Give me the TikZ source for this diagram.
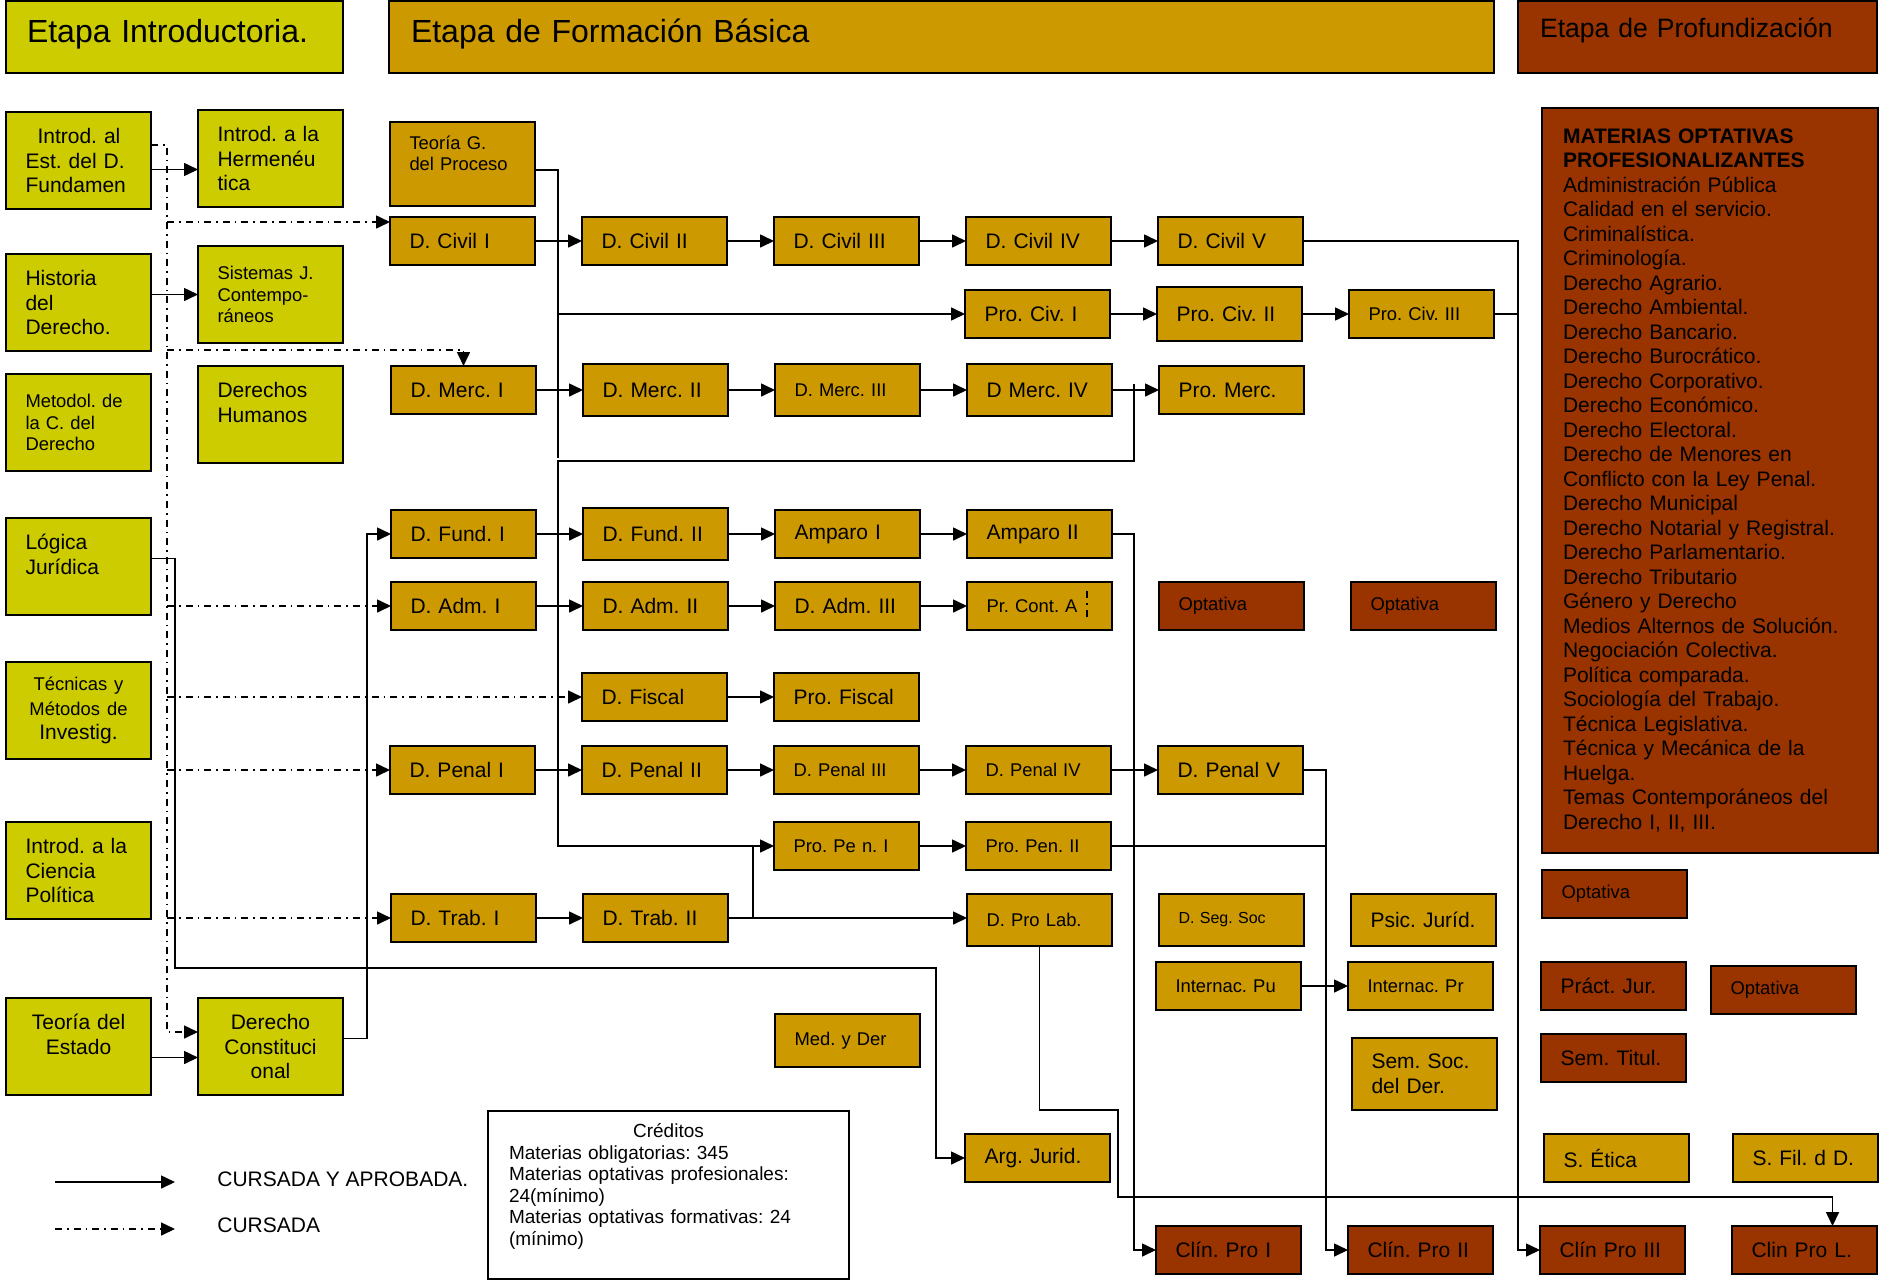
\documentclass[tikz,border=0pt]{standalone}
\usepackage{fontspec}
\setmainfont{Liberation Sans}
\usepackage{tikz}
\usetikzlibrary{positioning,arrows.meta}
\definecolor{verdeI}{RGB}{204,204,0}
\definecolor{oroB}{RGB}{204,153,0}
\definecolor{cafeP}{RGB}{153,51,0}
\newcommand{\fuenteE}{\fontsize{16}{19}\selectfont}
\newcommand{\fuenteP}{\fontsize{13.3}{16}\selectfont}
\newcommand{\fuenteG}{\fontsize{10.5}{12.25}\selectfont}
\newcommand{\fuenteC}{\fontsize{9.2}{10.75}\selectfont}
\newcommand{\fuenteM}{\fontsize{8}{9.5}\selectfont}
\newcommand{\fuenteK}{\fontsize{9.5}{10.75}\selectfont}
\frenchspacing

\begin{document}
\begin{tikzpicture}[
    x=0.5pt, y=-0.5pt,
    >={Triangle[length=7pt,width=6.5pt]},
    node distance=23.5pt,
    conector/.style={line width=0.8pt},
    cursada/.style={line width=0.8pt, dash pattern=on 3.5pt off 2.5pt on 0.8pt off 2.5pt},
    every edge/.style={<-, draw, conector},
    caja/.style={draw, line width=1pt, outer sep=0pt, font=\fuenteG, align=left, text width=53pt,
        inner xsep=9.75pt, inner ysep=2pt, minimum width=72.5pt, minimum height=24pt},
    intro/.style={caja, fill=verdeI, minimum height=48.5pt},
    basica/.style={caja, fill=oroB},
    profund/.style={caja, fill=cafeP},
    chica/.style={font=\fuenteC},
    etapa/.style={draw, line width=1pt, outer sep=0pt, anchor=north west, align=left,
        minimum height=36pt, inner xsep=10.5pt, font=\fuenteE, text depth=6pt},
    texto/.style={inner sep=0pt, anchor=west, font=\fuenteG}]

    \useasboundingbox (0,0) rectangle (1879,1280);

    \node[etapa, fill=verdeI, text width=147.5pt] (etIntro) at (6,1) {Etapa Introductoria.};
    \node[etapa, fill=oroB, text width=530.5pt, inner xsep=11pt] (etBasica) at (389,1) {Etapa de Formación Básica};
    \node[etapa, fill=cafeP, text width=157.5pt, inner xsep=11pt, font=\fuenteP, text depth=9pt] (etProf) at (1518,1) {Etapa de Profundización};

    \node[intro, anchor=north west] (intest) at (6,112) {\hspace*{6pt}Introd. al\\Est. del D.\\Fundamen};
    \node[intro, anchor=north west] (herme) at (198,110) {Introd. a la\\Hermenéu\\tica};
    \node[intro, anchor=north west] (hist) at (6,254) {Historia\\del\\Derecho.};
    \node[intro, chica, anchor=north west] (sist) at (198,246) {Sistemas J.\\Contempo-\\ráneos};
    \node[intro, chica, anchor=north west] (metod) at (6,374) {Metodol. de\\la C. del\\Derecho};
    \node[intro, anchor=north west] (ddhh) at (198,366) {Derechos\\Humanos\\\mbox{}};
    \node[intro, anchor=north west] (logica) at (6,518) {Lógica\\Jurídica\\\mbox{}};
    \node[intro, anchor=north west, align=center] (tecnicas) at (6,662) {{\fuenteC Técnicas y\\Métodos de}\\Investig.};
    \node[intro, anchor=north west] (icp) at (6,822) {Introd. a la\\Ciencia\\Política};
    \node[intro, anchor=north west, align=center] (testado) at (6,998) {Teoría del\\Estado\\\mbox{}};
    \node[intro, anchor=north west, align=center] (dconst) at (198,998) {Derecho\\Constituci\\onal};

    \node[basica, chica, anchor=north west, minimum height=42pt] (tgp) at (390,122) {Teoría G.\\del Proceso\\\mbox{}};

    \node[basica, anchor=north west] (dciv1) at (390,217) {D. Civil I};
        \node[basica, right=of dciv1] (dciv2) {D. Civil II} edge (dciv1);
        \node[basica, right=of dciv2] (dciv3) {D. Civil III} edge (dciv2);
        \node[basica, right=of dciv3] (dciv4) {D. Civil IV} edge (dciv3);
        \node[basica, right=of dciv4] (dciv5) {D. Civil V} edge (dciv4);

    \node[basica, anchor=north west] (prociv1) at (965,290) {Pro. Civ. I};
        \node[basica, right=of prociv1, minimum height=27pt] (prociv2) {Pro. Civ. II} edge (prociv1);
        \node[basica, chica, right=of prociv2] (prociv3) {Pro. Civ. III} edge (prociv2);

    \node[basica, anchor=north west] (dmerc1) at (391,366) {D. Merc. I};
        \node[basica, right=of dmerc1, minimum height=26pt] (dmerc2) {D. Merc. II} edge (dmerc1);
        \node[basica, chica, right=of dmerc2, minimum height=26pt] (dmerc3) {D. Merc. III} edge (dmerc2);
        \node[basica, right=of dmerc3, minimum height=26pt] (dmerc4) {D Merc. IV} edge (dmerc3);
        \node[basica, right=of dmerc4] (promerc) {Pro. Merc.} edge (dmerc4);

    \node[basica, anchor=north west] (dfund1) at (391,510) {D. Fund. I};
        \node[basica, right=of dfund1, minimum height=26pt] (dfund2) {D. Fund. II} edge (dfund1);
        \node[basica, right=of dfund2] (amp1) {Amparo I} edge (dfund2);
        \node[basica, right=of amp1] (amp2) {Amparo II} edge (amp1);

    \node[basica, anchor=north west] (dadm1) at (391,582) {D. Adm. I};
        \node[basica, right=of dadm1] (dadm2) {D. Adm. II} edge (dadm1);
        \node[basica, right=of dadm2] (dadm3) {D. Adm. III} edge (dadm2);
        \node[basica, chica, right=of dadm3] (prcont) {Pr. Cont. A} edge (dadm3);
        \node[profund, chica, right=of prcont] (opt1) {Optativa};
        \node[profund, chica, right=of opt1] (opt2) {Optativa};

    \node[basica, anchor=north west] (dfisc) at (582,673) {D. Fiscal};
        \node[basica, right=of dfisc] (profisc) {Pro. Fiscal} edge (dfisc);

    \node[basica, anchor=north west] (dpen1) at (390,746) {D. Penal I};
        \node[basica, right=of dpen1] (dpen2) {D. Penal II} edge (dpen1);
        \node[basica, chica, right=of dpen2] (dpen3) {D. Penal III} edge (dpen2);
        \node[basica, chica, right=of dpen3] (dpen4) {D. Penal IV} edge (dpen3);
        \node[basica, right=of dpen4] (dpen5) {D. Penal V} edge (dpen4);

    \node[basica, chica, anchor=north west] (propen1) at (774,822) {Pro. Pe n. I};
        \node[basica, chica, right=of propen1] (propen2) {Pro. Pen. II} edge (propen1);

    \node[basica, anchor=north west] (dtrab1) at (391,894) {D. Trab. I};
        \node[basica, right=of dtrab1] (dtrab2) {D. Trab. II} edge (dtrab1);
    \node[basica, chica, anchor=north west, minimum height=26pt] (dprolab) at (967,894) {D. Pro Lab.};
        \node[basica, right=of dprolab, font=\fuenteM, minimum height=26pt] (dsegsoc) {D. Seg. Soc};
        \node[basica, right=of dsegsoc, minimum height=26pt] (psic) {Psic. Juríd.};

    \node[basica, chica, anchor=north west] (internacpu) at (1156,962) {Internac. Pu};
        \node[basica, chica, right=of internacpu] (internacpr) {Internac. Pr} edge (internacpu);
    \node[basica, anchor=north west, minimum height=36pt] (semsoc) at (1352,1038) {Sem. Soc.\\del Der.};
    \node[basica, chica, anchor=north west, minimum height=26.5pt] (medyder) at (775,1014) {Med. y Der};
    \node[basica, anchor=north west] (argjur) at (965,1134) {Arg. Jurid.};

    \node[profund, anchor=north west] (clin1) at (1156,1226) {Clín. Pro I};
        \node[profund, right=of clin1] (clin2) {Clín. Pro II};
        \node[profund, right=of clin2] (clin3) {Clín Pro III};
        \node[profund, right=of clin3] (clinL) {Clin Pro L.};

    \node[profund, anchor=north west, text width=147pt, inner xsep=10.5pt, minimum width=168pt,
        minimum height=372.5pt] (optativas) at (1542,108) {\textbf{MATERIAS OPTATIVAS}\\
        \textbf{PROFESIONALIZANTES}\\Administración Pública\\Calidad en el servicio.\\
        Criminalística.\\Criminología.\\Derecho Agrario.\\Derecho Ambiental.\\Derecho Bancario.\\
        Derecho Burocrático.\\Derecho Corporativo.\\Derecho Económico.\\Derecho Electoral.\\
        Derecho de Menores en\\Conflicto con la Ley Penal.\\Derecho Municipal\\
        Derecho Notarial y Registral.\\Derecho Parlamentario.\\Derecho Tributario\\
        Género y Derecho\\Medios Alternos de Solución.\\Negociación Colectiva.\\
        Política comparada.\\Sociología del Trabajo.\\Técnica Legislativa.\\
        Técnica y Mecánica de la\\Huelga.\\Temas Contemporáneos del\\Derecho I, II, III.};
    \node[profund, chica, anchor=north west] (optP) at (1542,870) {Optativa};
    \node[profund, anchor=north west] (practjur) at (1541,962) {Práct. Jur.};
    \node[profund, chica, anchor=north west] (opt4) at (1711,966) {Optativa};
    \node[profund, anchor=north west] (semtit) at (1541,1034) {Sem. Titul.};
    \node[basica, anchor=north west] (setica) at (1544,1134) {S. Ética};
    \node[basica, anchor=north west] (sfil) at (1733,1134) {S. Fil. d D.};

    \node[draw, line width=1pt, anchor=north west, align=left, font=\fuenteK, text width=159.5pt,
        inner xsep=10.5pt, minimum height=84pt] (creditos) at (487,1110) {\makebox[\linewidth]{Créditos}\\
        Materias obligatorias: 345\\Materias optativas profesionales:\\24(mínimo)\\
        Materias optativas formativas: 24\\(mínimo)\\\mbox{}};

    \coordinate (lgA) at (55,1182);
    \coordinate (lgB) at (175,1182);
    \coordinate (lgC) at (55,1229);
    \coordinate (lgD) at (175,1229);
    \draw[conector, ->] (lgA) -- (lgB);
    \draw[cursada, ->] (lgC) -- (lgD);
    \node[texto] (lgtA) at (217,1179) {CURSADA Y APROBADA.};
    \node[texto] (lgtB) at (217,1225) {CURSADA};

    \coordinate (ieA) at ([yshift=-4.5pt]intest.east);
    \draw[conector, ->] (ieA) -- (ieA -| herme.west);
    \draw[conector, ->] (hist.east |- sist.west) -- (sist.west);
    \coordinate (teA) at ([yshift=-5.5pt]testado.east);
    \draw[conector, ->] (teA) -- (teA -| dconst.west);

    \coordinate (ddA) at (167,145);
    \coordinate (ddB) at (167,1032);
    \draw[cursada, ->] (intest.east |- ddA) -- (ddA) -- (ddB) -- (ddB -| dconst.west);
    \coordinate (ciA) at ([yshift=-2.5pt]dciv1.north west);
    \draw[cursada, ->] (ciA -| ddA) -- (ciA);
    \coordinate (mcA) at ([yshift=8pt]dmerc1.north);
    \draw[cursada, ->] (mcA -| ddA) -- (mcA) -- (dmerc1.north);
    \draw[cursada, ->] (dadm1.west -| ddA) -- (dadm1.west);
    \draw[cursada, ->] (dfisc.west -| ddA) -- (dfisc.west);
    \draw[cursada, ->] (dpen1.west -| ddA) -- (dpen1.west);
    \draw[cursada, ->] (dtrab1.west -| ddA) -- (dtrab1.west);
    \draw[cursada] ([xshift=-12.5pt,yshift=7.5pt]prcont.east) -- ([xshift=-12.5pt,yshift=-7.5pt]prcont.east);

    \coordinate (ljA) at (175,968);
    \coordinate (ljB) at (936,968);
    \draw[conector, ->] ([yshift=4pt]logica.east) -| (ljA) -- (ljB) |- (argjur.west);
    \coordinate (dcA) at ([xshift=-12pt]dfund1.west);
    \draw[conector, ->] ([yshift=4pt]dconst.east) -| (dcA) -- (dfund1.west);

    \coordinate (busA) at (558,458);
    \coordinate (busB) at (558,461);
    \draw[conector] ([yshift=-3pt]tgp.east) -| (busA);
    \draw[conector, ->] (prociv1.west -| busA) -- (prociv1.west);
    \coordinate (pmA) at ([xshift=-12.5pt,yshift=3pt]promerc.west);
    \draw[conector, ->] (pmA) |- (busB) |- (propen1.west);
    \coordinate (trA) at ([xshift=-10.5pt]propen1.west);
    \draw[conector] (trA) -- (trA |- dtrab2.east);
    \draw[conector, ->] (dtrab2.east) -- (dtrab2.east -| dprolab.west);

    \coordinate (bjA) at ([xshift=-11pt]clin1.west);
    \coordinate (bjB) at ([xshift=-11pt]clin2.west);
    \coordinate (bjC) at ([xshift=-11pt]clin3.west);
    \draw[conector, ->] (amp2.east) -| (bjA) -- (clin1.west);
    \draw[conector, ->] (dpen5.east) -| (bjB) -- (clin2.west);
    \draw[conector] (propen2.east) -- (propen2.east -| bjB);
    \draw[conector, ->] (dciv5.east) -| (bjC) -- (clin3.west);
    \draw[conector] (prociv3.east) -- (prociv3.east -| bjC);

    \coordinate (plA) at (1118,1110);
    \coordinate (plB) at (1118,1197);
    \draw[conector, ->] (dprolab.south) |- (plA) -- (plB) -| ([xshift=14pt]clinL.north);

\end{tikzpicture}
\end{document}
